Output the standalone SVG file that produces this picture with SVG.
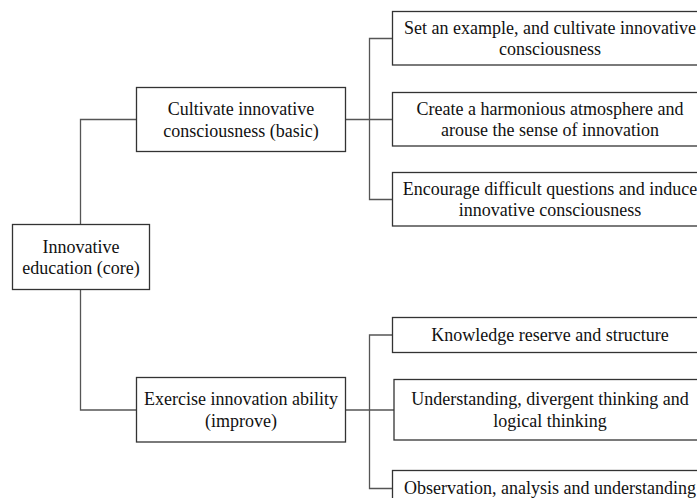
<svg xmlns="http://www.w3.org/2000/svg" width="697" height="498" viewBox="0 0 697 498">
<style>
.box{fill:#fff;stroke:#333;stroke-width:1.3}
.t{font-family:"Liberation Serif","Times New Roman",serif;font-size:18px;fill:#111;text-anchor:middle}
.c{fill:none;stroke:#555;stroke-width:1.3}
</style>
<rect width="697" height="498" fill="#fff"/>
<g id="connectors">
<path class="c" d="M80.5 224.5V119.5H136.5"/>
<path class="c" d="M80.5 289.5V410H136.5"/>
<path class="c" d="M345.5 119.5H392.5"/>
<path class="c" d="M392.5 38.5H369.5V199.5H392.5"/>
<path class="c" d="M345.5 410H394"/>
<path class="c" d="M392.5 335H369.5V488.5H392.5"/>
</g>
<g id="core">
<rect class="box" x="12.5" y="224.5" width="137" height="65"/>
<text class="t" x="81" y="252.5">Innovative</text>
<text class="t" x="81" y="274">education (core)</text>
</g>
<g id="cultivate">
<rect class="box" x="136.5" y="87.5" width="209" height="64"/>
<text class="t" x="241" y="115">Cultivate innovative</text>
<text class="t" x="241" y="136.5">consciousness (basic)</text>
</g>
<g id="exercise">
<rect class="box" x="136.5" y="377.5" width="209" height="64.5"/>
<text class="t" x="241" y="405">Exercise innovation ability</text>
<text class="t" x="241" y="426.5">(improve)</text>
</g>
<g id="r1">
<rect class="box" x="392.5" y="11.5" width="316" height="53.5"/>
<text class="t" x="550" y="33.8">Set an example, and cultivate innovative</text>
<text class="t" x="550" y="55.3">consciousness</text>
</g>
<g id="r2">
<rect class="box" x="392.5" y="92.5" width="316" height="53.5"/>
<text class="t" x="550" y="114.8">Create a harmonious atmosphere and</text>
<text class="t" x="550" y="136.3">arouse the sense of innovation</text>
</g>
<g id="r3">
<rect class="box" x="392.5" y="172.5" width="316" height="53.5"/>
<text class="t" x="550" y="194.8">Encourage difficult questions and induce</text>
<text class="t" x="550" y="216.3">innovative consciousness</text>
</g>
<g id="r4">
<rect class="box" x="392.5" y="317.5" width="316" height="35"/>
<text class="t" x="550" y="341">Knowledge reserve and structure</text>
</g>
<g id="r5">
<rect class="box" x="394" y="379.5" width="316" height="60.5"/>
<text class="t" x="550" y="405">Understanding, divergent thinking and</text>
<text class="t" x="550" y="426.5">logical thinking</text>
</g>
<g id="r6">
<rect class="box" x="392.5" y="470.5" width="316" height="36"/>
<text class="t" x="550" y="494">Observation, analysis and understanding</text>
</g>
</svg>
